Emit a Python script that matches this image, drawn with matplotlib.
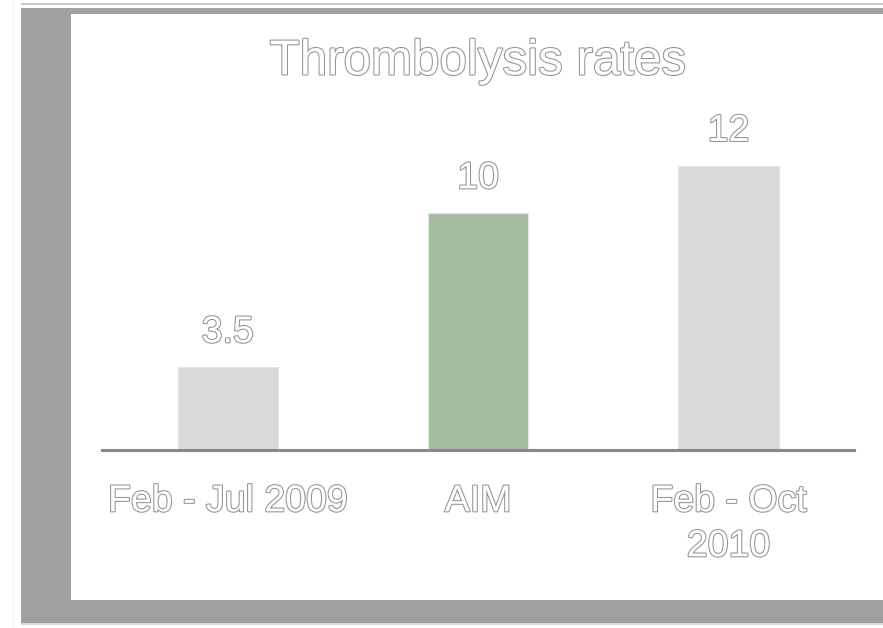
import matplotlib
matplotlib.use("Agg")
import matplotlib.pyplot as plt
import matplotlib.patheffects as pe
from matplotlib.patches import Rectangle

plt.rcParams['font.family'] = ['Liberation Sans', 'DejaVu Sans']

periods = ['Feb - Jul 2009', 'AIM', 'Feb - Oct\n2010']
rates = [3.5, 10, 12]
rate_labels = ['3.5', '10', '12']
bar_colors = ['#d9d9d9', '#a6bca1', '#d9d9d9']

W, H = 883, 628
fig = plt.figure(figsize=(W / 100, H / 100), dpi=100)
fig.patch.set_facecolor('white')

# hollow lettering: white fill with a thin grey outline
hollow = [pe.Stroke(linewidth=1.5, foreground='#939393'), pe.Normal()]


def px_rect(x0, y0, x1, y1, color, z):
    # rectangle given in pixel coords measured from top-left
    r = Rectangle((x0 / W, 1 - y1 / H), (x1 - x0) / W, (y1 - y0) / H,
                  transform=fig.transFigure, facecolor=color,
                  edgecolor='none', zorder=z)
    fig.patches.append(r)


# slide frame
px_rect(13, 0, 14, H, '#f2f2f2', -12)
px_rect(21, 3, W, 5, '#c8c8c8', -12)
px_rect(21, 8, W, 623, '#a0a0a0', -11)
px_rect(21, 623, W, 625, '#d8d8d8', -11)
px_rect(71, 14, W, 600, 'white', -10)

ax = fig.add_axes([102.5 / W, (H - 450) / H, 751.25 / W, 14 * 23.7 / H])
ax.patch.set_alpha(0)

x = range(len(rates))
bars = ax.bar(x, rates, width=0.4, color=bar_colors,
              edgecolor='#e6e6e6', linewidth=0.8)
ax.set_xlim(-0.5, 2.5)
ax.set_ylim(0, 14)

for b, lab in zip(bars, rate_labels):
    ax.annotate(lab, (b.get_x() + b.get_width() / 2, b.get_height()),
                xytext=(0, 12), textcoords='offset points',
                ha='center', va='bottom', fontsize=27, color='white',
                path_effects=hollow)

ax.set_xticks(list(x))
ax.set_xticklabels(periods, fontsize=27, color='white', linespacing=1.32)
for t in ax.get_xticklabels():
    t.set_path_effects(hollow)
ax.tick_params(axis='x', length=0, pad=24)
ax.set_yticks([])
for s in ['top', 'left', 'right']:
    ax.spines[s].set_visible(False)
ax.spines['bottom'].set_color('#888888')
ax.spines['bottom'].set_linewidth(2.2)

fig.text(478 / W, 1 - 62 / H, 'Thrombolysis rates', ha='center', va='center',
         fontsize=35.5, color='white', path_effects=hollow)

fig.savefig('out.png', dpi=100)
